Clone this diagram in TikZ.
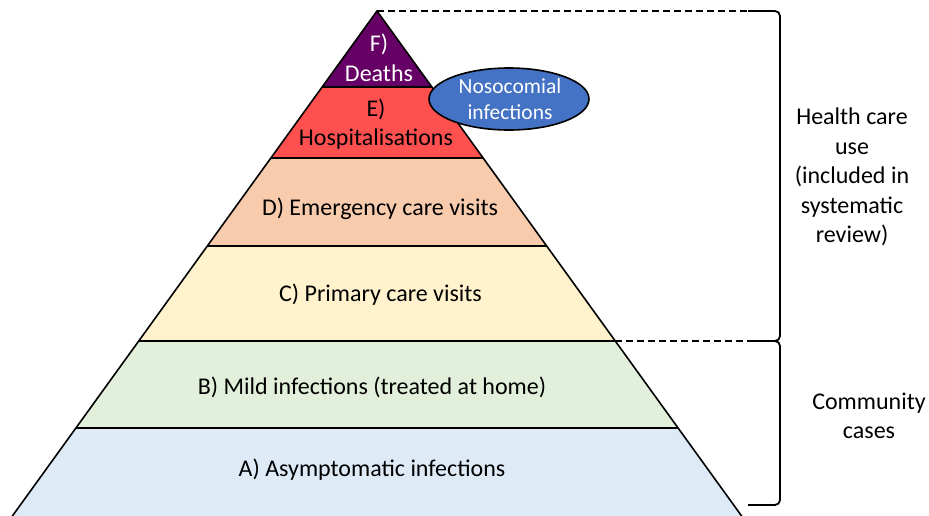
\documentclass[tikz,border=0pt]{standalone}
\usepackage{fontspec}
\setmainfont{Carlito}
\begin{document}
\begin{tikzpicture}[x=1pt,y=-1pt,
  layer/.style={draw=black,line width=1.6pt,line join=round},
  lbl/.style={font=\fontsize{24}{29.5}\selectfont,align=center,inner sep=0pt},
  guide/.style={dash pattern=on 7pt off 4pt,line width=1.1pt},
  bracket/.style={line width=1.8pt,rounded corners=5pt}]
\useasboundingbox (0,0) rectangle (929,515);
\clip (0,0) rectangle (929,515);
\definecolor{cF}{HTML}{660066}
\definecolor{cE}{HTML}{FF5050}
\definecolor{cD}{HTML}{F8CBAD}
\definecolor{cC}{HTML}{FFF2CC}
\definecolor{cB}{HTML}{E2EFDA}
\definecolor{cA}{HTML}{DEEBF7}
\definecolor{cN}{HTML}{4472C4}
% coordinates
\coordinate (apex) at (377,11);
\coordinate (eL) at (322.1,87);  \coordinate (eR) at (431.9,87);
\coordinate (dL) at (270.9,158); \coordinate (dR) at (483.1,158);
\coordinate (cL) at (207.3,246); \coordinate (cR) at (546.7,246);
\coordinate (bL) at (138.7,341); \coordinate (bR) at (615.3,341);
\coordinate (aL) at (75.9,428);  \coordinate (aR) at (678.1,428);
\coordinate (zL) at (6.6,524);   \coordinate (zR) at (747.4,524);
% layers
\fill[cA] (aL) -- (aR) -- (zR) -- (zL) -- cycle;
\fill[cB] (bL) -- (bR) -- (aR) -- (aL) -- cycle;
\fill[cC] (cL) -- (cR) -- (bR) -- (bL) -- cycle;
\fill[cD] (dL) -- (dR) -- (cR) -- (cL) -- cycle;
\fill[cE] (eL) -- (eR) -- (dR) -- (dL) -- cycle;
\fill[cF] (apex) -- (eR) -- (eL) -- cycle;
\draw[layer] (zL) -- (apex) -- (zR);
\draw[layer] (eL) -- (eR) (dL) -- (dR) (cL) -- (cR) (bL) -- (bR) (aL) -- (aR);
% labels
\node[lbl,text=white] (F) at (379,58) {F)\\Deaths};
\node[lbl] (E) at (376,124) {E)\\Hospitalisations};
\node[lbl] (D) at (380,209) {D) Emergency care visits};
\node[lbl] (C) at (380.5,295) {C) Primary care visits};
\node[lbl] (B) at (372,387) {B) Mild infections (treated at home)};
\node[lbl] (A) at (372,470) {A) Asymptomatic infections};
% nosocomial ellipse
\draw[line width=1.6pt,fill=cN] (509,99) ellipse [x radius=80, y radius=31];
\node[lbl,font=\fontsize{21.5}{26}\selectfont,text=white] (N) at (510,99) {Nosocomial\\infections};
% dashed guides
\coordinate (t1) at (748,11);
\coordinate (m1) at (748,341);
\coordinate (b1) at (748,505);
\draw[guide] (apex) -- (t1);
\draw[guide] (bR) -- (m1);
% brackets
\draw[bracket] (t1) -- (780,11) -- (780,341) -- (m1);
\draw[bracket] (m1) -- (780,341) -- (780,505) -- (b1);
% side texts
\node[lbl] (H) at (852,177) {Health care\\use\\(included in\\systematic\\review)};
\node[lbl] (Cm) at (869,416) {Community\\cases};
\end{tikzpicture}
\end{document}
